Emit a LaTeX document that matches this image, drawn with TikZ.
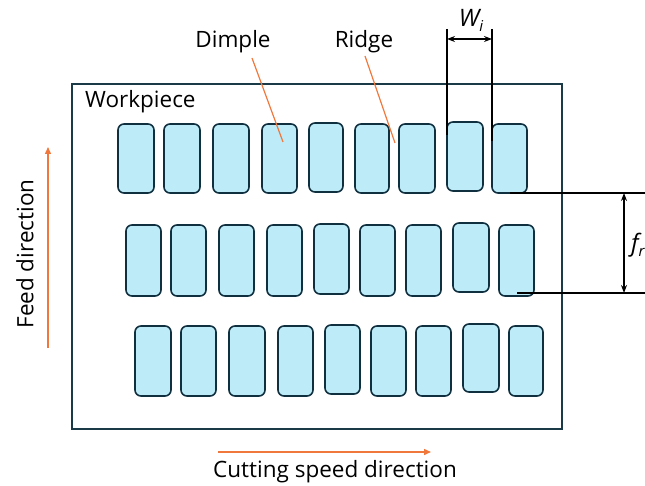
\documentclass[tikz,border=0pt]{standalone}
\usepackage{fontspec}
\setmainfont{Open Sans}
\usetikzlibrary{arrows.meta}
\definecolor{dfill}{HTML}{BDEBF8}
\definecolor{dline}{HTML}{10303F}
\definecolor{wline}{HTML}{1B3A48}
\definecolor{orng}{HTML}{F0783C}
\tikzset{
  dimple/.style={draw=dline, fill=dfill, line width=1.6pt, rounded corners=6pt},
  lbl/.style={font=\fontsize{22.5}{27}\selectfont, inner sep=0pt},
  lead/.style={draw=orng, line width=1.2pt},
  dirarrow/.style={draw=orng, line width=1.4pt, -{Triangle[length=7pt,width=6pt]}},
  dim/.style={draw=black, line width=1.2pt},
  dimarrow/.style={draw=black, line width=1.2pt, {Stealth[length=8pt,width=6pt]}-{Stealth[length=8pt,width=6pt]}}
}
\begin{document}
\begin{tikzpicture}[x=1pt,y=-1pt]
\useasboundingbox (0,0) rectangle (645,486);
% workpiece
\draw[draw=wline, line width=1.6pt] (72,84) rectangle (562,429);
\node[lbl, anchor=west] (wp) at (85,102) {Workpiece};
% row 1
\foreach \i/\a/\b/\t/\u in {1/118/154/124/193,2/164/200/124/193,3/213/249/124/193,4/262/297/124/193,5/309/343/123/192,6/355/389/124/193,7/399/435/124/193,8/447/483/122/191,9/492/527/124/193}{
  \draw[dimple] (\a,\t) rectangle (\b,\u);
}
% row 2
\foreach \i/\a/\b/\t/\u in {1/126/161/225/296,2/171/206/225/296,3/219/254/225/296,4/267/302/225/296,5/314/349/224/294,6/360/395/225/296,7/406/441/225/296,8/453/489/223/292,9/499/534/225/296}{
  \draw[dimple] (\a,\t) rectangle (\b,\u);
}
% row 3
\foreach \i/\a/\b/\t/\u in {1/135/171/326/396,2/181/216/326/396,3/229/265/326/396,4/278/313/326/396,5/325/360/325/394,6/371/406/326/396,7/416/451/326/396,8/463/499/324/392,9/509/543/326/396}{
  \draw[dimple] (\a,\t) rectangle (\b,\u);
}
% labels Dimple / Ridge
\node[lbl] (dimp) at (233,42) {Dimple};
\node[lbl] (ridge) at (364,42) {Ridge};
\coordinate (dimpend) at (283,142);
\coordinate (ridgeend) at (395,143);
\draw[lead] (252,58) -- (dimpend);
\draw[lead] (365,56) -- (ridgeend);
% W_i
\coordinate (wa1) at (447,29); \coordinate (wa2) at (447,135);
\coordinate (wb1) at (492,29); \coordinate (wb2) at (492,141);
\draw[dim] (wa1) -- (wa2);
\draw[dim] (wb1) -- (wb2);
\coordinate (wl) at (447,39); \coordinate (wr) at (492,39);
\draw[dimarrow] (wl) -- (wr);
\node[lbl, anchor=south, font=\fontsize{24}{28}\selectfont] (wlab) at (471,32) {\itshape W\raisebox{-0.4ex}{\fontsize{15}{18}\selectfont\itshape i}};
% f_r
\coordinate (fa1) at (510,193); \coordinate (fa2) at (645,193);
\coordinate (fb1) at (517,293); \coordinate (fb2) at (645,293);
\draw[dim] (fa1) -- (fa2);
\draw[dim] (fb1) -- (fb2);
\coordinate (ft) at (624,193); \coordinate (fb) at (624,293);
\draw[dimarrow] (ft) -- (fb);
\node[lbl, anchor=west, font=\fontsize{24}{28}\selectfont] (flab) at (631,245) {\itshape f\raisebox{-0.4ex}{\fontsize{15}{18}\selectfont\itshape r}};
% direction arrows
\coordinate (fd1) at (48,348); \coordinate (fd2) at (48,147);
\draw[dirarrow] (fd1) -- (fd2);
\node[lbl, rotate=90] (feed) at (25,254) {Feed direction};
\coordinate (cs1) at (218,452); \coordinate (cs2) at (431,452);
\draw[dirarrow] (cs1) -- (cs2);
\node[lbl] (cut) at (335,472) {Cutting speed direction};
\end{tikzpicture}
\end{document}
